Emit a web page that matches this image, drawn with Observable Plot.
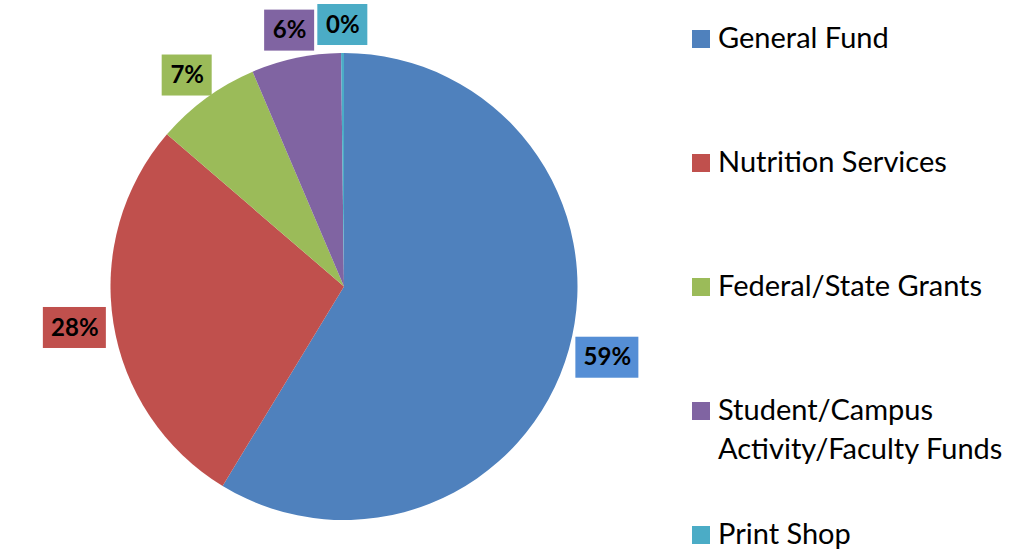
<!DOCTYPE html>
<html><head><meta charset="utf-8">
<script src="https://cdn.jsdelivr.net/npm/d3@7"></script>
<script src="https://cdn.jsdelivr.net/npm/@observablehq/plot@0.6"></script>
<style>
html,body{margin:0;padding:0;background:#fff;}
#wrap{position:relative;width:1009px;height:551px;overflow:hidden;font-family:Lato,"Open Sans",sans-serif;}
#chart{position:absolute;left:0;top:0;}
#legend{position:absolute;left:692px;top:0;width:317px;}
.item{position:absolute;left:0;line-height:39px;font-size:29px;color:#000;padding-left:26px;white-space:nowrap;}
.sw{position:absolute;left:0;top:13px;width:18px;height:18px;}
</style></head><body><div id="wrap"><div id="chart"></div><div id="legend"></div></div>
<script>
// ---- data ----
const categories = ["General Fund", "Nutrition Services", "Federal/State Grants", "Student/Campus Activity/Faculty Funds", "Print Shop"];
const legendLines = [["General Fund"], ["Nutrition Services"], ["Federal/State Grants"], ["Student/Campus", "Activity/Faculty Funds"], ["Print Shop"]];
const shares = [58.7, 27.6, 7.3, 6.2, 0.2];
const sliceColors = ["#4F81BD", "#C0504D", "#9BBB59", "#8064A2", "#4BACC6"];
const labelFills = ["#558ED5", "#C0504D", "#9BBB59", "#8064A2", "#4BACC6"];

// ---- layout ----
const CX = 344, CY = 286.5, R = 233.5, GAP = 8, BOX_H = 41;

const rows = categories.map((name, i) => ({name, value: shares[i], color: sliceColors[i], fill: labelFills[i]}));
const total = d3.sum(rows, d => d.value);
const arcs = d3.pie().sort(null).value(d => d.value)(rows);

const labels = arcs.map(a => {
  const mid = (a.startAngle + a.endAngle) / 2;
  const dx = Math.sin(mid), dy = Math.cos(mid);
  const text = Math.round(a.data.value / total * 100) + "%";
  const w = 13 * text.length + 24;
  const px = (R + GAP) / R * dx + dx * (w / 2) / R;
  const py = (R + GAP) / R * dy + dy * (BOX_H / 2) / R;
  return {text, fill: a.data.fill, cx: px, cy: py,
    x1: px - w / 2 / R, x2: px + w / 2 / R, y1: py - BOX_H / 2 / R, y2: py + BOX_H / 2 / R};
});

const pieMark = (index, scales) => {
  const cx = scales.x(0), cy = scales.y(0), r = scales.x(1) - scales.x(0);
  const arc = d3.arc().innerRadius(0).outerRadius(r);
  const g = d3.create("svg:g").attr("transform", `translate(${cx},${cy})`);
  g.selectAll("path").data(arcs).join("path")
    .attr("d", arc).attr("fill", d => d.data.color);
  return g.node();
};

const chart = Plot.plot({
  width: 1009, height: 551,
  style: {fontFamily: "Lato, 'Open Sans', sans-serif", background: "transparent"},
  x: {domain: [-1, 1], range: [CX - R, CX + R], axis: null},
  y: {domain: [-1, 1], range: [CY + R, CY - R], axis: null},
  color: {type: "identity"},
  marks: [
    pieMark,
    Plot.rect(labels, {x1: "x1", x2: "x2", y1: "y1", y2: "y2", fill: "fill"}),
    Plot.text(labels, {x: "cx", y: "cy", text: "text", fontWeight: "bold", fontSize: 24, fill: "#000"})
  ]
});
document.getElementById("chart").appendChild(chart);

const legend = d3.select("#legend");
legendLines.forEach((lines, i) => {
  const it = legend.append("div").attr("class", "item").style("top", (17 + i * 124) + "px");
  it.append("div").attr("class", "sw").style("background", sliceColors[i]);
  it.append("div").html(lines.join("<br>"));
});
</script></body></html>
